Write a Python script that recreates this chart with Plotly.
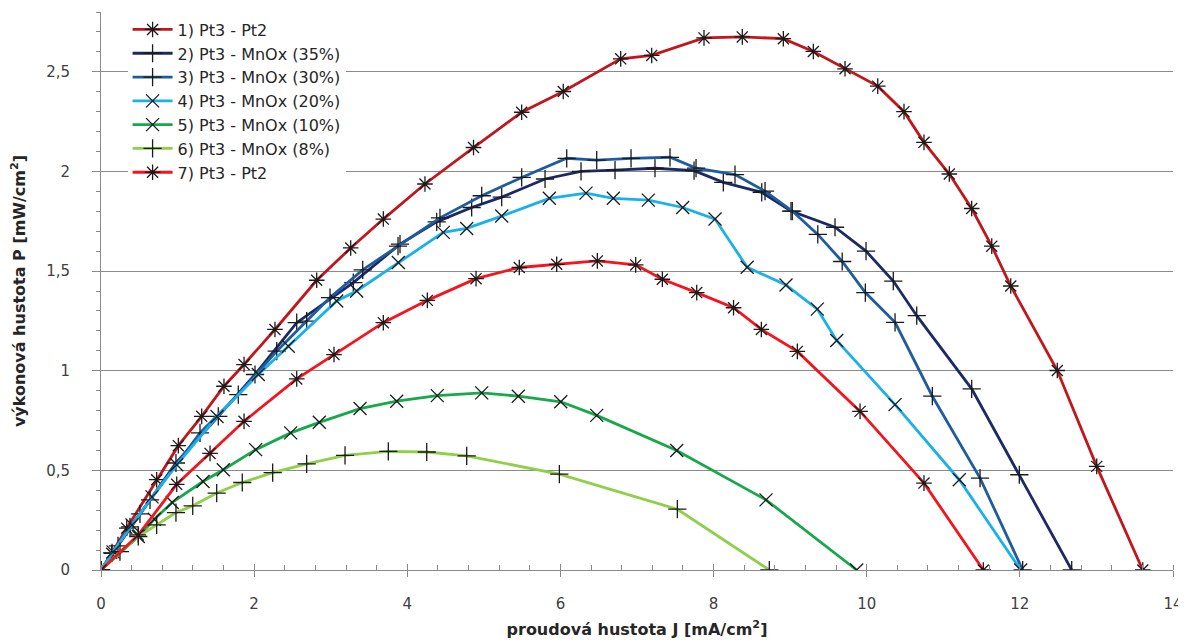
import plotly.graph_objects as go

names = ["1) Pt3 - Pt2", "2) Pt3 - MnOx (35%)", "3) Pt3 - MnOx (30%)", "4) Pt3 - MnOx (20%)",
         "5) Pt3 - MnOx (10%)", "6) Pt3 - MnOx (8%)", "7) Pt3 - Pt2"]

s1_x = [0, 0.140, 0.336, 0.727, 1.010, 1.315, 1.606, 1.868, 2.272, 2.817, 3.261, 3.687, 4.231, 4.865,
        5.494, 6.037, 6.787, 7.192, 7.875, 8.375, 8.911, 9.303, 9.717, 10.144, 10.487, 10.748, 11.079,
        11.371, 11.633, 11.881, 12.489, 13.004, 13.605]
s1_y = [0, 0.084, 0.210, 0.453, 0.624, 0.771, 0.922, 1.031, 1.207, 1.454, 1.616, 1.761, 1.937, 2.120,
        2.297, 2.401, 2.565, 2.582, 2.670, 2.675, 2.666, 2.602, 2.515, 2.428, 2.300, 2.146, 1.987,
        1.814, 1.625, 1.425, 1.001, 0.520, 0.0]

s2_x = [0, 0.222, 0.509, 0.979, 1.532, 2.011, 2.556, 3.295, 3.905, 4.384, 4.841, 5.233, 5.799, 6.269,
        6.713, 7.235, 7.745, 8.127, 8.629, 9.011, 9.586, 9.991, 10.347, 10.653, 11.371, 11.993, 12.677]
s2_y = [0, 0.121, 0.282, 0.537, 0.771, 0.981, 1.241, 1.442, 1.635, 1.747, 1.819, 1.871, 1.962, 2.000,
        2.007, 2.016, 2.004, 1.945, 1.895, 1.801, 1.720, 1.600, 1.450, 1.276, 0.909, 0.478, 0.0]

s3_x = [0, 0.144, 0.379, 0.640, 1.293, 1.793, 2.295, 2.686, 2.991, 3.418, 3.879, 4.427, 4.972, 5.494,
        6.082, 6.474, 6.922, 7.431, 7.771, 8.280, 8.672, 9.028, 9.361, 9.680, 9.982, 10.370, 10.857,
        11.480, 12.037]
s3_y = [0, 0.086, 0.216, 0.352, 0.688, 0.880, 1.098, 1.249, 1.367, 1.506, 1.625, 1.767, 1.878, 1.970,
        2.066, 2.057, 2.066, 2.071, 2.017, 1.984, 1.901, 1.801, 1.684, 1.548, 1.392, 1.243, 0.872,
        0.461, 0.0]

s4_x = [0, 0.157, 0.405, 0.666, 0.989, 1.515, 2.054, 2.446, 3.078, 3.339, 3.883, 4.470, 4.776, 5.233,
        5.855, 6.334, 6.691, 7.148, 7.597, 8.019, 8.439, 8.946, 9.355, 9.608, 10.370, 11.209, 12.011]
s4_y = [0, 0.091, 0.226, 0.367, 0.528, 0.770, 0.981, 1.123, 1.350, 1.400, 1.543, 1.694, 1.714, 1.776,
        1.865, 1.891, 1.865, 1.856, 1.819, 1.761, 1.519, 1.430, 1.309, 1.152, 0.830, 0.453, 0.0]

s5_x = [0, 0.487, 0.696, 0.931, 1.332, 1.597, 2.020, 2.477, 2.851, 3.383, 3.862, 4.392, 4.972, 5.450,
        6.004, 6.474, 7.519, 8.685, 9.869]
s5_y = [0, 0.168, 0.255, 0.339, 0.444, 0.503, 0.604, 0.688, 0.741, 0.810, 0.847, 0.875, 0.889, 0.872,
        0.844, 0.776, 0.600, 0.352, 0.0]

s6_x = [0, 0.248, 0.487, 0.727, 0.979, 1.198, 1.511, 1.845, 2.242, 2.686, 3.187, 3.752, 4.254, 4.776,
        5.986, 7.527, 8.728]
s6_y = [0, 0.092, 0.168, 0.226, 0.288, 0.322, 0.386, 0.439, 0.489, 0.533, 0.575, 0.595, 0.592, 0.573,
        0.481, 0.305, 0.0]

s7_x = [0, 0.487, 0.989, 1.424, 1.868, 2.556, 3.043, 3.687, 4.262, 4.898, 5.463, 5.951, 6.482, 6.983,
        7.331, 7.780, 8.261, 8.624, 9.094, 9.913, 10.748, 11.523]
s7_y = [0, 0.176, 0.430, 0.585, 0.746, 0.959, 1.081, 1.241, 1.353, 1.462, 1.518, 1.534, 1.551, 1.531,
        1.459, 1.392, 1.316, 1.207, 1.097, 0.796, 0.436, 0.0]

x_ticks = [0, 2, 4, 6, 8, 10, 12, 14]
y_ticks = [0, 0.5, 1, 1.5, 2, 2.5]

series = [(s1_x, s1_y), (s2_x, s2_y), (s3_x, s3_y), (s4_x, s4_y), (s5_x, s5_y), (s6_x, s6_y), (s7_x, s7_y)]
colors = ["#C0161C", "#1B2A66", "#1F5C9E", "#1AB0EA", "#17A84B", "#8FCF4A", "#F5141E"]
symbols = ["asterisk-open", "cross-thin-open", "cross-thin-open", "x-thin-open", "x-thin-open",
           "cross-thin-open", "asterisk-open"]

FONT = "DejaVu Sans"
fig = go.Figure()
for (xs, ys), n, c, s in zip(series, names, colors, symbols):
    fig.add_trace(go.Scatter(
        x=xs, y=ys, name=n, mode="lines+markers",
        line=dict(color=c, width=2.8),
        marker=dict(symbol=s, size=13, color="#1a1a1a", line=dict(color="#1a1a1a", width=1.3)),
    ))

axis_grey = "#8a8a8a"
fig.update_layout(
    width=1178, height=635,
    margin=dict(l=93, r=13, t=4, b=73),
    paper_bgcolor="white", plot_bgcolor="white",
    separators=", ",
    font=dict(family=FONT, size=15, color="#404040"),
    showlegend=True,
    legend=dict(x=0.0248, y=0.999, xanchor="left", yanchor="top", bgcolor="white",
                font=dict(family=FONT, size=16, color="#262626"), tracegroupgap=0,
                itemwidth=40, entrywidth=205),
    xaxis=dict(range=[0, 14], tickvals=x_ticks, showgrid=False, zeroline=False, automargin=False,
               showline=True, linecolor=axis_grey, linewidth=1,
               ticks="outside", ticklen=6, tickcolor=axis_grey,
               minor=dict(dtick=0.4, tick0=0, ticks="inside", ticklen=5, tickcolor=axis_grey),
               tickfont=dict(size=15, color="#404040"), ticklabelstandoff=14,
               title=dict(text="proudová hustota J [mA/cm<sup>2</sup>]", standoff=11,
                          font=dict(size=16, color="#262626", weight="bold"))),
    xaxis2=dict(range=[0, 14], overlaying="x", anchor="y", side="bottom", tickvals=x_ticks,
                ticks="inside", ticklen=6, tickcolor=axis_grey, showticklabels=False,
                showgrid=False, zeroline=False, showline=False, automargin=False),
    yaxis=dict(range=[0, 2.8], tickvals=y_ticks, showgrid=True, gridcolor=axis_grey, gridwidth=1,
               zeroline=False, showline=True, linecolor=axis_grey, linewidth=1, automargin=False,
               ticks="outside", ticklen=8, tickcolor=axis_grey,
               minor=dict(dtick=0.1, tick0=0, ticks="outside", ticklen=4, tickcolor=axis_grey,
                          showgrid=False),
               tickfont=dict(size=15, color="#404040"), ticklabelstandoff=19,
               title=dict(text="výkonová hustota P [mW/cm<sup>2</sup>]", standoff=25,
                          font=dict(size=16, color="#262626", weight="bold"))),
)
fig.add_trace(go.Scatter(x=[None], y=[None], xaxis="x2", yaxis="y", showlegend=False,
                         hoverinfo="skip", mode="lines"))

fig.write_html("out.html")
